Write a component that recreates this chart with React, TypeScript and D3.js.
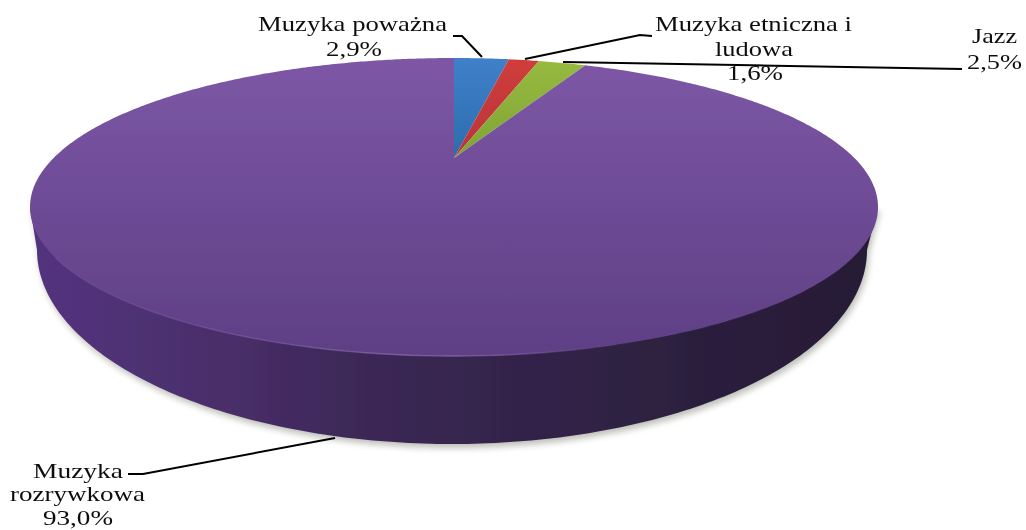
import React from "react";
import * as d3 from "d3";

const categories = ["Muzyka poważna", "Muzyka etniczna i ludowa", "Jazz", "Muzyka rozrywkowa"];
const values = [2.9, 1.6, 2.5, 93.0];
const valueLabels = ["2,9%", "1,6%", "2,5%", "93,0%"];
const gradIds = ["gBlue", "gRed", "gGreen", "gPurple"];

// geometry of the tilted disc
const cx = 454, cy = 207, rx = 424, ry = 149;
const tipY = 158;
const topY = cy - ry, botY = cy + ry;
const A = tipY - topY, B = botY - tipY;
const k = (A - B) / (A + B); // perspective factor, negative: front is closer
const vScale = B * (1 + k);
const uScale = rx * Math.sqrt(1 - k * k);

function project(angle: number): [number, number] {
  const u = Math.sin(angle), v = -Math.cos(angle);
  const d = 1 + k * v;
  return [cx + (uScale * u) / d, tipY + (vScale * v) / d];
}

const pie = d3.pie<number>().sort(null).value((d) => d);
const arcs = pie(values);
const lineGen = d3.line<[number, number]>().curve(d3.curveLinear);

function slicePath(a0: number, a1: number) {
  const n = Math.max(4, Math.ceil((a1 - a0) / 0.01));
  const pts: [number, number][] = [[cx, tipY]];
  d3.range(n + 1).forEach((i) => pts.push(project(a0 + ((a1 - a0) * i) / n)));
  return lineGen(pts) + "Z";
}

// side wall: bottom ellipse joined to the disc's widest points
const brx = 415, bcx = 452, bcy = 250, bry = 194;
const sidePts: [number, number][] = [[cx - rx, cy]];
d3.range(0, 181, 1).forEach((deg) => {
  const t = Math.PI - (deg * Math.PI) / 180;
  sidePts.push([bcx + brx * Math.cos(t), bcy + bry * Math.sin(t)]);
});
sidePts.push([cx + rx, cy]);
const sidePath = lineGen(sidePts) + "Z";

const rimPts: [number, number][] = d3.range(20, 161, 2).map((deg) => {
  const t = Math.PI - (deg * Math.PI) / 180;
  return [cx + rx * Math.cos(t), cy + ry * Math.sin(t)];
});

type L = { t: string; x0: number; x1: number; y: number };
const labelRows: L[] = [
  { t: categories[0], x0: 258, x1: 447, y: 31 },
  { t: valueLabels[0], x0: 326, x1: 382, y: 56 },
  { t: "Muzyka etniczna i", x0: 655, x1: 852, y: 31 },
  { t: "ludowa", x0: 715, x1: 793, y: 56 },
  { t: valueLabels[1], x0: 727, x1: 783, y: 80 },
  { t: categories[2], x0: 972, x1: 1017, y: 43 },
  { t: valueLabels[2], x0: 967, x1: 1022, y: 69 },
  { t: "Muzyka", x0: 33, x1: 123, y: 478 },
  { t: "rozrywkowa", x0: 10, x1: 145, y: 501 },
  { t: valueLabels[3], x0: 43, x1: 113, y: 525 },
];
const leaders: [number, number][][] = [
  [[453, 36], [462, 36], [482, 57]],
  [[652, 36], [640, 35], [525, 59]],
  [[563, 62], [962, 69]],
  [[128, 474], [143, 474], [335, 438]],
];

const stops = (c0: string, c1: string) => (
  <>
    <stop offset="0" stopColor={c0} />
    <stop offset="1" stopColor={c1} />
  </>
);

export default function App() {
  return (
    <svg width={1026} height={530} style={{ position: "absolute", left: 0, top: 0, background: "#fff" }}>
      <defs>
        <linearGradient id="gPurple" gradientUnits="userSpaceOnUse" x1="0" y1={topY} x2="0" y2={botY}>
          {stops("#7d57a6", "#5e3f84")}
        </linearGradient>
        <linearGradient id="gBlue" gradientUnits="userSpaceOnUse" x1="0" y1={topY} x2="0" y2={tipY}>
          {stops("#3f80ca", "#2d6cab")}
        </linearGradient>
        <linearGradient id="gRed" gradientUnits="userSpaceOnUse" x1="0" y1={topY} x2="0" y2={tipY}>
          {stops("#cf3d3b", "#b9343a")}
        </linearGradient>
        <linearGradient id="gGreen" gradientUnits="userSpaceOnUse" x1="0" y1={topY} x2="0" y2={tipY}>
          {stops("#97bb3e", "#7fa335")}
        </linearGradient>
        <linearGradient id="gSide" gradientUnits="userSpaceOnUse" x1={cx - rx} y1="0" x2={cx + rx} y2="0">
          <stop offset="0" stopColor="#53327f" />
          <stop offset="0.2" stopColor="#4b2f6c" />
          <stop offset="0.4" stopColor="#3b2856" />
          <stop offset="0.6" stopColor="#322348" />
          <stop offset="0.8" stopColor="#2b1f3d" />
          <stop offset="1" stopColor="#271b35" />
        </linearGradient>
        <linearGradient id="gRim" gradientUnits="userSpaceOnUse" x1={cx - rx} y1="0" x2={cx + rx} y2="0">
          <stop offset="0.1" stopColor="#8a68b0" stopOpacity="0.25" />
          <stop offset="0.5" stopColor="#8a68b0" stopOpacity="0.8" />
          <stop offset="0.7" stopColor="#8a68b0" stopOpacity="0.05" />
        </linearGradient>
        <filter id="shadow" x="-5%" y="-5%" width="110%" height="115%">
          <feGaussianBlur stdDeviation="3" />
        </filter>
        <filter id="soft" x="-5%" y="-5%" width="110%" height="110%">
          <feGaussianBlur stdDeviation="0.5" />
        </filter>
      </defs>

      <path d={sidePath} fill="#8a8a80" opacity={0.55} transform="translate(2,4)" filter="url(#shadow)" />
      <g filter="url(#soft)">
        <path d={sidePath} fill="url(#gSide)" />
        {arcs.map((a, i) => (
          <path key={i} d={slicePath(a.startAngle, a.endAngle)} fill={`url(#${gradIds[i]})`} />
        ))}
        <path d={lineGen(rimPts) ?? ""} fill="none" stroke="url(#gRim)" strokeWidth={1.4} />
      </g>

      <g filter="url(#soft)">
        {leaders.map((l, i) => (
          <path key={i} d={lineGen(l) ?? ""} fill="none" stroke="#000" strokeWidth={2} />
        ))}
        {labelRows.map((r, i) => (
          <text
            key={i}
            x={r.x0}
            y={r.y}
            textLength={r.x1 - r.x0}
            lengthAdjust="spacingAndGlyphs"
            fontFamily="'Liberation Serif', serif"
            fontSize={21}
            fill="#111"
          >
            {r.t}
          </text>
        ))}
      </g>
    </svg>
  );
}
